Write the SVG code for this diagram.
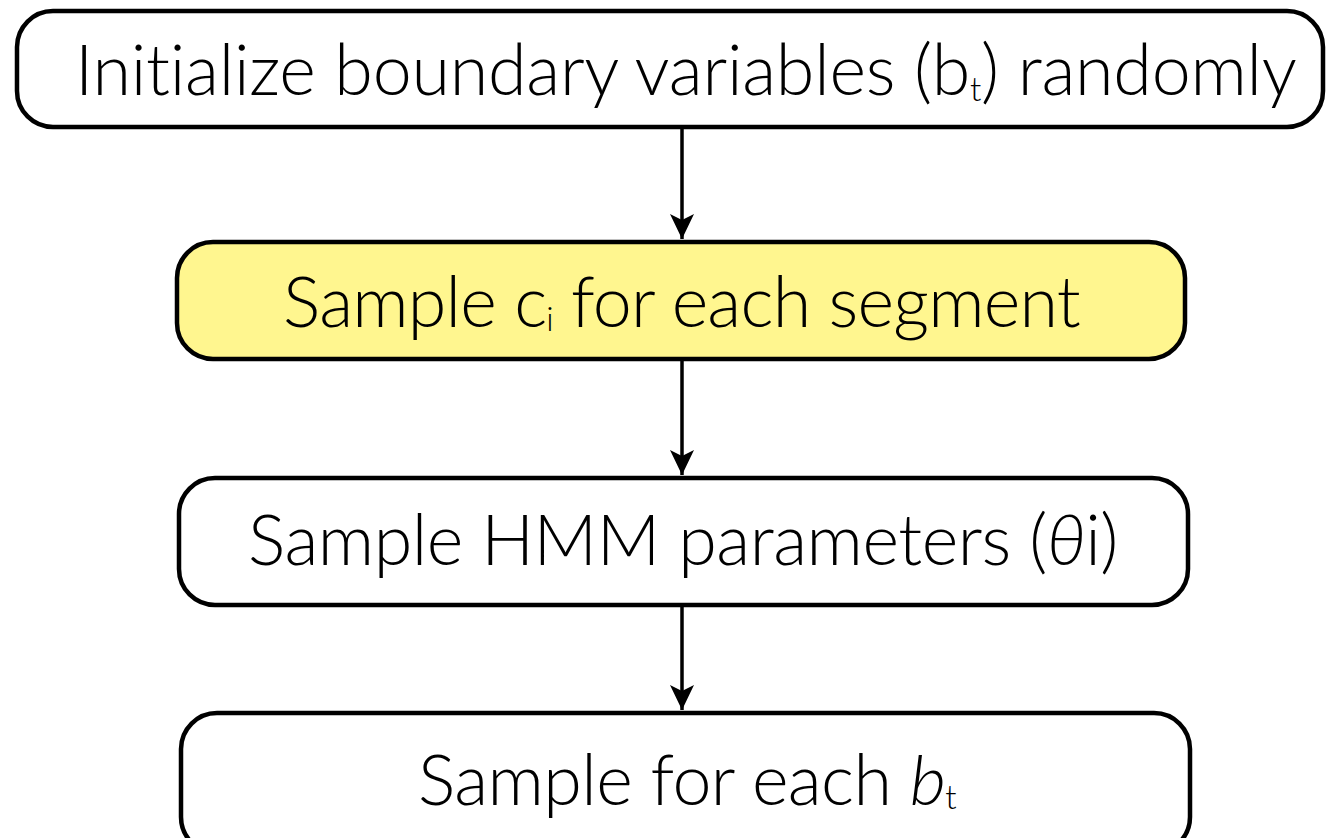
<svg xmlns="http://www.w3.org/2000/svg" width="1329" height="838" viewBox="0 0 1329 838">
<defs>
<style>
.box{fill:#ffffff;stroke:#000;stroke-width:4.5}
.hl{fill:#fff68f}
.lbl{font-family:Lato,"Open Sans","Liberation Sans",sans-serif;font-weight:300;font-size:70px;fill:#000;font-variant-ligatures:none}
.sub{font-size:33px}
.conn{stroke:#000;stroke-width:3.5;fill:none;marker-end:url(#arr)}
</style>
<marker id="arr" markerUnits="userSpaceOnUse" markerWidth="26" markerHeight="26" refX="25" refY="12" orient="auto">
<path d="M0,0 L25,12 L0,24 L6,12 Z" fill="#000"/>
</marker>
</defs>
<rect width="1329" height="838" fill="#fff"/>
<g id="connectors">
<line class="conn" x1="682" y1="128" x2="682" y2="239"/>
<line class="conn" x1="682" y1="360" x2="682" y2="475"/>
<line class="conn" x1="682" y1="606" x2="682" y2="710"/>
</g>
<g id="init">
<rect class="box" x="17" y="11" width="1306" height="116" rx="36"/>
<text class="lbl" x="75" y="95" letter-spacing="-0.25">Initialize boundary variables (b<tspan class="sub" dy="6">t</tspan><tspan dy="-6">) randomly</tspan></text>
</g>
<g id="sample-c">
<rect class="box hl" x="177" y="242" width="1008" height="117" rx="36"/>
<text class="lbl" x="283" y="327" letter-spacing="-0.8">Sample c<tspan class="sub" dy="4">i</tspan><tspan dy="-4"> for each segment</tspan></text>
</g>
<g id="sample-hmm">
<rect class="box" x="179" y="478" width="1009" height="127" rx="36"/>
<text class="lbl" x="248" y="565" letter-spacing="-0.5">Sample HMM parameters (<tspan font-style="italic">θ</tspan>i)</text>
</g>
<g id="sample-b">
<rect class="box" x="181" y="713" width="1009" height="140" rx="36"/>
<text class="lbl" x="418" y="805" letter-spacing="-0.6">Sample for each <tspan font-style="italic">b</tspan><tspan class="sub" dy="4">t</tspan></text>
</g>
</svg>
